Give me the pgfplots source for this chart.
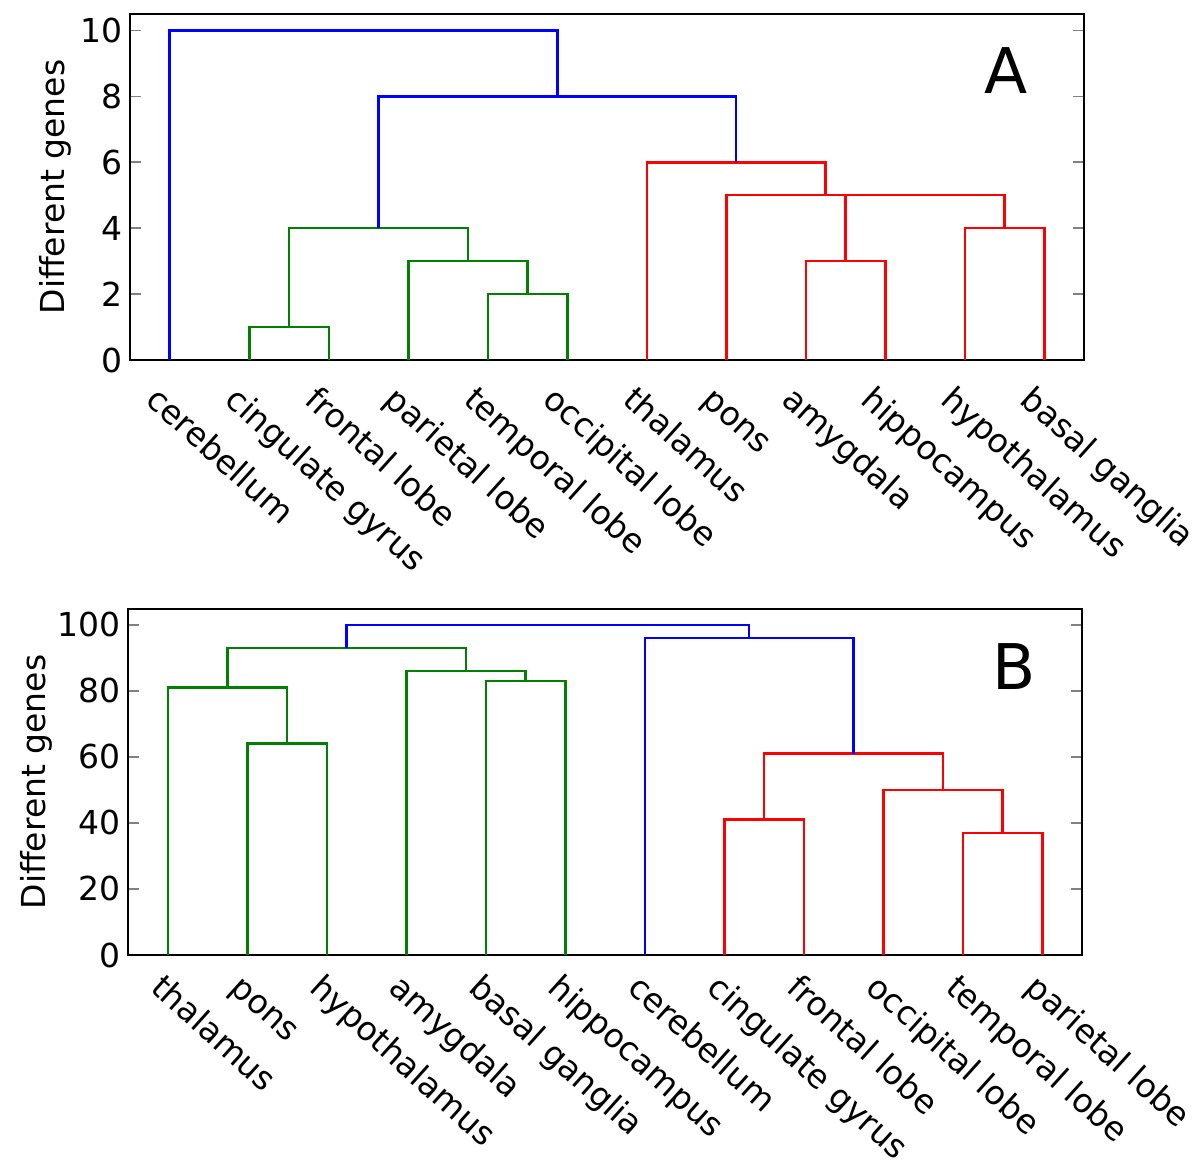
\documentclass[border=0pt]{standalone}
\usepackage{fontspec}
\setmainfont{DejaVu Sans}
\usepackage{pgfplots}
\pgfplotsset{compat=1.18}
\definecolor{mblue}{RGB}{0,0,255}
\definecolor{mgreen}{RGB}{0,128,0}
\definecolor{mred}{RGB}{255,0,0}
\newcommand{\fs}{\fontsize{16.5}{19.8}\selectfont}
\pgfplotsset{dendro/.style={
  scale only axis, width=477pt, height=173pt,
  xmin=0, xmax=120, ymin=0,
  axis line style={line width=1.1pt},
  xtick={5,15,...,115},
  xtick style={draw=none},
  tick align=inside,
  ytick pos=both,
  major tick length=5.5pt,
  ytick style={line width=0.8pt},
  /pgf/number format/assume math mode=true,
  tick label style={font=\fs},
  label style={font=\fs},
  ylabel={Different genes},
  every axis plot/.append style={line width=1.25pt, mark=none},
}}
\begin{document}
\begin{tikzpicture}
\path[use as bounding box] (0,0) rectangle (600pt,-580.5pt);
% Panel A
\begin{axis}[dendro, at={(65pt,-180pt)}, anchor=south west,
  ymax=10.5, ytick={0,2,...,10},
  xticklabel style={xshift=-13pt, yshift=-21pt, rotate=-42, anchor=base west, inner sep=0pt},
  ylabel style={at={(axis description cs:-0.078,0.5)}, anchor=center, rotate=0},
  xticklabels={cerebellum,cingulate gyrus,frontal lobe,parietal lobe,temporal lobe,occipital lobe,thalamus,pons,amygdala,hippocampus,hypothalamus,basal ganglia}]
\addplot[mgreen] coordinates {(15,0) (15,1) (25,1) (25,0)};
\addplot[mgreen] coordinates {(45,0) (45,2) (55,2) (55,0)};
\addplot[mgreen] coordinates {(35,0) (35,3) (50,3) (50,2)};
\addplot[mgreen] coordinates {(20,1) (20,4) (42.5,4) (42.5,3)};
\addplot[mred] coordinates {(85,0) (85,3) (95,3) (95,0)};
\addplot[mred] coordinates {(105,0) (105,4) (115,4) (115,0)};
\addplot[mred] coordinates {(90,3) (90,5) (110,5) (110,4)};
\addplot[mred] coordinates {(75,0) (75,5) (100,5) (100,5)};
\addplot[mred] coordinates {(65,0) (65,6) (87.5,6) (87.5,5)};
\addplot[mblue] coordinates {(31.25,4) (31.25,8) (76.25,8) (76.25,6)};
\addplot[mblue] coordinates {(5,0) (5,10) (53.75,10) (53.75,8)};
\node[font=\fontsize{31.5}{36}\selectfont] at (axis cs:110.2,8.78) {A};
\end{axis}
% Panel B
\begin{axis}[dendro, at={(64pt,-477.5pt)}, anchor=south west,
  ymax=104.8, ytick={0,20,...,100},
  xticklabel style={xshift=-9.5pt, yshift=-17.5pt, rotate=-42, anchor=base west, inner sep=0pt},
  ylabel style={at={(axis description cs:-0.0955,0.5)}, anchor=center, rotate=0},
  xticklabels={thalamus,pons,hypothalamus,amygdala,basal ganglia,hippocampus,cerebellum,cingulate gyrus,frontal lobe,occipital lobe,temporal lobe,parietal lobe}]
\addplot[mgreen] coordinates {(15,0) (15,64) (25,64) (25,0)};
\addplot[mgreen] coordinates {(5,0) (5,81) (20,81) (20,64)};
\addplot[mgreen] coordinates {(45,0) (45,83) (55,83) (55,0)};
\addplot[mgreen] coordinates {(35,0) (35,86) (50,86) (50,83)};
\addplot[mgreen] coordinates {(12.5,81) (12.5,93) (42.5,93) (42.5,86)};
\addplot[mred] coordinates {(75,0) (75,41) (85,41) (85,0)};
\addplot[mred] coordinates {(105,0) (105,37) (115,37) (115,0)};
\addplot[mred] coordinates {(95,0) (95,50) (110,50) (110,37)};
\addplot[mred] coordinates {(80,41) (80,61) (102.5,61) (102.5,50)};
\addplot[mblue] coordinates {(65,0) (65,96) (91.25,96) (91.25,61)};
\addplot[mblue] coordinates {(27.5,93) (27.5,100) (78.125,100) (78.125,96)};
\node[font=\fontsize{31.5}{36}\selectfont] at (axis cs:111.4,87.3) {B};
\end{axis}
\end{tikzpicture}
\end{document}
